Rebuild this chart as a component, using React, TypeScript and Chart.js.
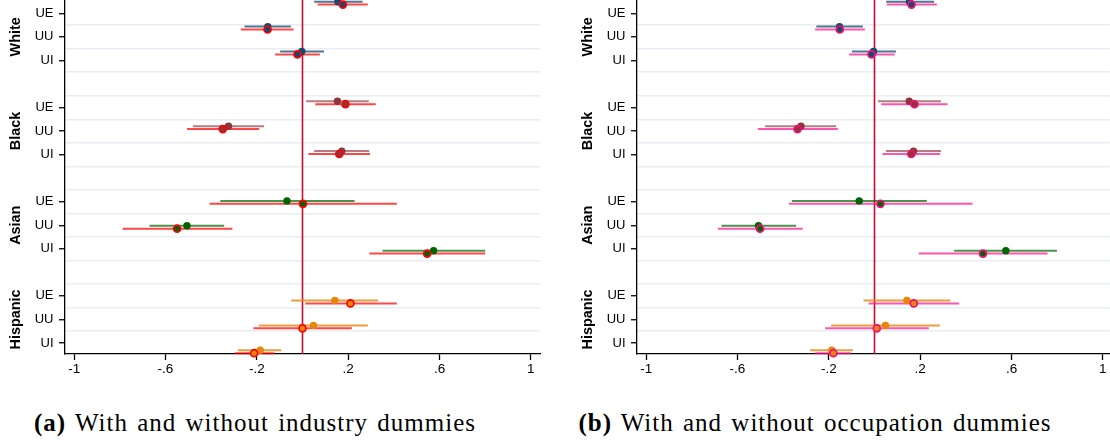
import React, { useEffect, useRef } from "react";
import { Chart, registerables } from "chart.js";

Chart.register(...registerables);

// ---------- data ----------
const groups = ["White", "Black", "Asian", "Hispanic"];
const rows = ["UE", "UU", "UI"];
const xTicks = [-1, -0.6, -0.2, 0.2, 0.6, 1];

// Panel (a): industry dummies
const aCoef1 = [0.155, -0.152, -0.003, 0.153, -0.324, 0.172, -0.068, -0.506, 0.574, 0.142, 0.048, -0.185];
const aLo1 = [0.051, -0.254, -0.098, 0.016, -0.48, 0.051, -0.36, -0.67, 0.35, -0.049, -0.191, -0.283];
const aHi1 = [0.263, -0.051, 0.094, 0.29, -0.168, 0.292, 0.228, -0.343, 0.8, 0.331, 0.286, -0.093];
const aCoef2 = [0.177, -0.153, -0.022, 0.188, -0.349, 0.161, 0.002, -0.549, 0.546, 0.21, 0.0, -0.212];
const aLo2 = [0.066, -0.27, -0.12, 0.056, -0.506, 0.026, -0.407, -0.788, 0.293, 0.012, -0.215, -0.295];
const aHi2 = [0.286, -0.039, 0.076, 0.321, -0.19, 0.296, 0.413, -0.307, 0.8, 0.413, 0.216, -0.124];

// Panel (b): occupation dummies
const bCoef1 = [0.153, -0.153, -0.004, 0.152, -0.322, 0.171, -0.067, -0.508, 0.575, 0.142, 0.048, -0.187];
const bLo1 = [0.051, -0.255, -0.099, 0.015, -0.479, 0.05, -0.362, -0.67, 0.349, -0.048, -0.19, -0.282];
const bHi1 = [0.261, -0.051, 0.094, 0.291, -0.168, 0.291, 0.229, -0.343, 0.799, 0.332, 0.286, -0.095];
const bCoef2 = [0.162, -0.152, -0.013, 0.175, -0.337, 0.161, 0.026, -0.501, 0.475, 0.172, 0.01, -0.18];
const bLo2 = [0.054, -0.26, -0.111, 0.029, -0.511, 0.035, -0.375, -0.686, 0.194, -0.026, -0.216, -0.26];
const bHi2 = [0.273, -0.042, 0.089, 0.32, -0.16, 0.288, 0.429, -0.314, 0.758, 0.371, 0.238, -0.103];

// ---------- styles ----------
const groupDot = ["#1a476f", "#90353b", "#006400", "#e8850c"];
const groupLine = ["rgba(26,71,111,0.75)", "rgba(144,53,59,0.65)", "rgba(0,100,0,0.7)", "rgba(232,133,12,0.8)"];
const ZERO = "#cc0a2f";
const FONT = '"Liberation Sans", Arial, sans-serif';

const fmt = (v: number) => {
  if (v === 0) return "0";
  const s = String(Math.round(v * 10) / 10);
  return s.replace(/^(-?)0\./, "$1.");
};

type Panel = {
  c1: number[]; l1: number[]; h1: number[];
  c2: number[]; l2: number[]; h2: number[];
  ring: string; ringLine: string;
};

const groupLabelPlugin = {
  id: "groupLabels",
  afterDraw(chart: any) {
    const ctx = chart.ctx;
    const sc = chart.scales.yT;
    ctx.save();
    ctx.fillStyle = "#000";
    ctx.font = `bold 14.4px ${FONT}`;
    ctx.textAlign = "center";
    ctx.textBaseline = "middle";
    groups.forEach((g, gi) => {
      const y = sc.getPixelForValue(gi * 4 + 1);
      ctx.save();
      ctx.translate(16, y);
      ctx.rotate(-Math.PI / 2);
      ctx.fillText(g, 0, 0);
      ctx.restore();
    });
    ctx.restore();
  },
};

const Y_MIN = -0.068, Y_MAX = 14.149;
const YT_MIN = -0.565, YT_MAX = 14.467;
const OFF2 = 0.117;

function buildChart(canvas: HTMLCanvasElement, p: Panel) {
  const datasets: any[] = [];
  const base = { type: "scatter", xAxisID: "x", yAxisID: "y", clip: false };
  datasets.push({
    ...base, showLine: true,
    data: [{ x: 0, y: Y_MIN }, { x: 0, y: Y_MAX }],
    borderColor: ZERO, borderWidth: 1.6, pointRadius: 0, order: 100,
  });
  const n = p.c1.length;
  for (let i = 0; i < n; i++) {
    const g = Math.floor(i / 3);
    const pos = g * 4 + (i % 3);
    datasets.push({
      ...base, showLine: true,
      data: [{ x: p.l1[i], y: pos }, { x: p.h1[i], y: pos }],
      borderColor: groupLine[g], borderWidth: 2, pointRadius: 0, order: 60,
    });
    datasets.push({
      ...base, showLine: true,
      data: [{ x: p.l2[i], y: pos + OFF2 }, { x: p.h2[i], y: pos + OFF2 }],
      borderColor: p.ringLine, borderWidth: 2, pointRadius: 0, order: 50,
    });
  }
  const pos = p.c1.map((_, i) => Math.floor(i / 3) * 4 + (i % 3));
  const cols = p.c1.map((_, i) => groupDot[Math.floor(i / 3)]);
  datasets.push({
    ...base,
    data: p.c1.map((v, i) => ({ x: v, y: pos[i] })),
    pointBackgroundColor: cols, pointBorderColor: cols, pointBorderWidth: 0,
    pointRadius: 3.7, order: 20,
  });
  datasets.push({
    ...base,
    data: p.c2.map((v, i) => ({ x: v, y: pos[i] + OFF2 })),
    pointBackgroundColor: cols, pointBorderColor: p.ring, pointBorderWidth: 1.7,
    pointRadius: 3.5, order: 10,
  });

  const yTickVals: number[] = [];
  for (let g = 0; g < 4; g++) for (let r = 0; r < 3; r++) yTickVals.push(g * 4 + r);
  for (let k = 0; k < 14; k++) yTickVals.push(k + 0.5);
  yTickVals.sort((a, b) => a - b);

  return new Chart(canvas, {
    type: "scatter",
    data: { datasets },
    plugins: [groupLabelPlugin],
    options: {
      animation: false,
      responsive: false,
      maintainAspectRatio: false,
      layout: { autoPadding: false, padding: { top: 0, right: 5, left: 0, bottom: 0 } },
      plugins: { legend: { display: false }, tooltip: { enabled: false } },
      events: [],
      scales: {
        x: {
          type: "linear", min: -1.04, max: 1.04,
          afterBuildTicks: (s: any) => { s.ticks = xTicks.map((v) => ({ value: v })); },
          afterFit: (s: any) => { s.height = 26; s.paddingLeft = 0; s.paddingRight = 0; },
          ticks: { callback: (v: any) => fmt(Number(v)), color: "#000", font: { family: FONT, size: 13.5 }, padding: 1, autoSkip: false, maxRotation: 0 },
          grid: { drawOnChartArea: false, tickLength: 6, tickColor: "#000", tickWidth: 1.3 },
          border: { color: "#000", width: 1.3 },
        },
        y: { type: "linear", display: false, reverse: true, min: Y_MIN, max: Y_MAX },
        yT: {
          type: "linear", position: "left", reverse: true, min: YT_MIN, max: YT_MAX,
          afterBuildTicks: (s: any) => { s.ticks = yTickVals.map((v) => ({ value: v })); },
          afterFit: (s: any) => { s.width = 65; s.paddingTop = 0; s.paddingBottom = 0; },
          ticks: {
            callback: (v: any) => {
              const n = Number(v);
              if (!Number.isInteger(n)) return "";
              return rows[n % 4] ?? "";
            },
            color: "#000", font: { family: FONT, size: 13 }, padding: 5.5, autoSkip: false,
          },
          grid: {
            drawOnChartArea: true, tickLength: 6, lineWidth: 1.5, tickWidth: 1.3,
            color: (c: any) => (c.tick && !Number.isInteger(c.tick.value) ? "#e8eef1" : "rgba(0,0,0,0)"),
            tickColor: (c: any) => (c.tick && Number.isInteger(c.tick.value) ? "#000" : "rgba(0,0,0,0)"),
          },
          border: { color: "#000", width: 1.3 },
        },
      },
    } as any,
  });
}

function PanelChart({ panel, left }: { panel: Panel; left: number }) {
  const ref = useRef<HTMLCanvasElement>(null);
  useEffect(() => {
    if (!ref.current) return;
    const ch = buildChart(ref.current, panel);
    return () => ch.destroy();
  }, []);
  return (
    <canvas ref={ref} width={545} height={380}
      style={{ position: "absolute", left, top: 0, width: 545, height: 380 }} />
  );
}

const panelA: Panel = { c1: aCoef1, l1: aLo1, h1: aHi1, c2: aCoef2, l2: aLo2, h2: aHi2, ring: "#ff0000", ringLine: "rgba(255,0,0,0.72)" };
const panelB: Panel = { c1: bCoef1, l1: bLo1, h1: bHi1, c2: bCoef2, l2: bLo2, h2: bHi2, ring: "#ee1177", ringLine: "rgba(255,20,140,0.72)" };

const captionStyle: React.CSSProperties = {
  position: "absolute", top: 408, width: 560, textAlign: "center",
  fontFamily: '"Liberation Serif", "DejaVu Serif", serif', fontSize: 25, lineHeight: "30px", color: "#000",
  whiteSpace: "nowrap", letterSpacing: "1px", wordSpacing: "2px",
};

export default function App() {
  return (
    <div style={{ position: "absolute", left: 0, top: 0, width: 1110, height: 445, overflow: "hidden", background: "#fff" }}>
      <PanelChart panel={panelA} left={0} />
      <PanelChart panel={panelB} left={572} />
      <div style={{ ...captionStyle, left: 255 - 280 }}><b>(a)</b> With and without industry dummies</div>
      <div style={{ ...captionStyle, left: 815 - 280 }}><b>(b)</b> With and without occupation dummies</div>
    </div>
  );
}
